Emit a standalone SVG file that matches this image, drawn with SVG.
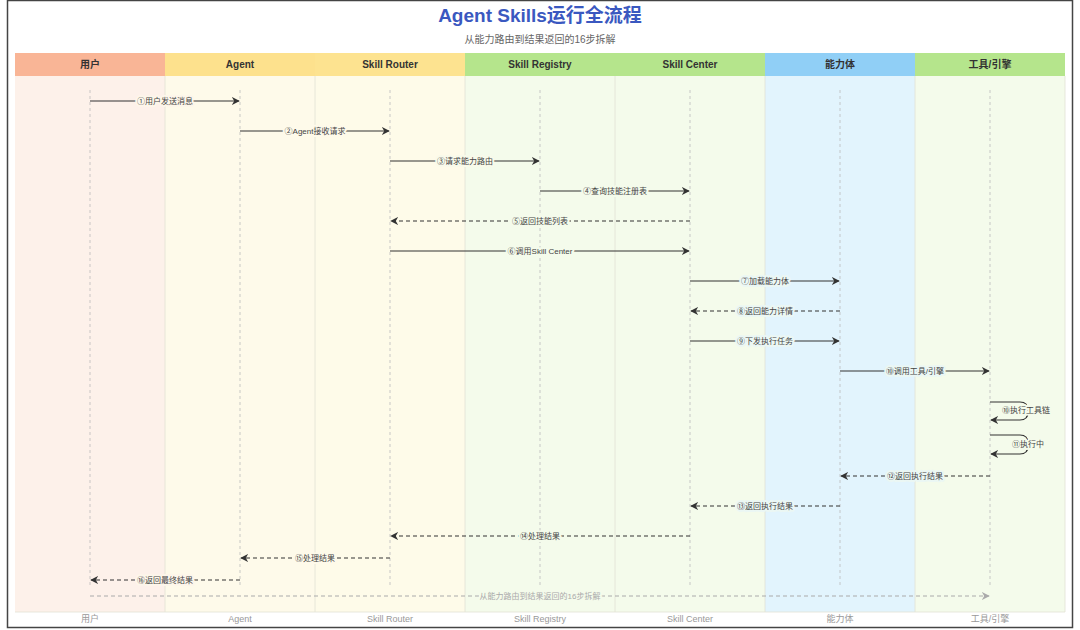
<svg xmlns="http://www.w3.org/2000/svg" width="1080" height="630" viewBox="0 0 1080 630">
<defs>
<style>
.t{font-family:"Liberation Sans","Noto Sans CJK SC",sans-serif}
.title{font-size:19px;font-weight:bold;fill:#3a58c0}
.sub{font-size:10px;fill:#666}
.hd{font-size:10px;font-weight:bold;fill:#333}
.ft{font-size:9px;fill:#999}
.lbl{font-size:8px;fill:#444;paint-order:stroke;stroke-width:4px;stroke-linejoin:round}
.life{stroke:#bbb;stroke-width:0.8;stroke-dasharray:3 3;fill:none}
.sep{stroke:#e2e2d4;stroke-width:0.8}
.msg{stroke:#333;stroke-width:1.2;fill:none;marker-end:url(#ah)}
.ret{stroke:#333;stroke-width:1.2;fill:none;stroke-dasharray:4 3;marker-end:url(#ah)}
</style>
<marker id="ah" viewBox="0 0 10 10" refX="9" refY="5" markerWidth="8" markerHeight="8" markerUnits="userSpaceOnUse" orient="auto">
<path d="M0,0 L10,5 L0,10 L3,5 z" fill="#333"/>
</marker>
<marker id="ahg" viewBox="0 0 10 10" refX="9" refY="5" markerWidth="8" markerHeight="8" markerUnits="userSpaceOnUse" orient="auto">
<path d="M0,0 L10,5 L0,10 L3,5 z" fill="#aaa"/>
</marker>
</defs>
<rect x="0" y="0" width="1080" height="630" fill="#fff"/>
<rect x="7.5" y="0.5" width="1065" height="627" fill="#fff" stroke="#444" stroke-width="1.5"/>
<text class="t title" x="540" y="22" text-anchor="middle">Agent Skills运行全流程</text>
<text class="t sub" x="540" y="43" text-anchor="middle">从能力路由到结果返回的16步拆解</text>

<g id="lane-user">
<rect x="15" y="76" width="150" height="536" fill="#fdf1ea"/>
<rect x="15" y="53" width="150" height="23" fill="#f9b596"/>
<text class="t hd" x="90" y="68" text-anchor="middle">用户</text>
<line class="life" x1="90" y1="90" x2="90" y2="588"/>
<text class="t ft" x="90" y="622" text-anchor="middle">用户</text>
</g>
<g id="lane-agent">
<rect x="165" y="76" width="150" height="536" fill="#fefaea"/>
<rect x="165" y="53" width="150" height="23" fill="#fde18d"/>
<text class="t hd" x="240" y="68" text-anchor="middle">Agent</text>
<line class="life" x1="240" y1="90" x2="240" y2="588"/>
<text class="t ft" x="240" y="622" text-anchor="middle">Agent</text>
</g>
<g id="lane-router">
<rect x="315" y="76" width="150" height="536" fill="#fefbe9"/>
<rect x="315" y="53" width="150" height="23" fill="#fde390"/>
<text class="t hd" x="390" y="68" text-anchor="middle">Skill Router</text>
<line class="life" x1="390" y1="90" x2="390" y2="588"/>
<text class="t ft" x="390" y="622" text-anchor="middle">Skill Router</text>
</g>
<g id="lane-registry">
<rect x="465" y="76" width="150" height="536" fill="#f4fbeb"/>
<rect x="465" y="53" width="150" height="23" fill="#b5e58c"/>
<text class="t hd" x="540" y="68" text-anchor="middle">Skill Registry</text>
<line class="life" x1="540" y1="90" x2="540" y2="588"/>
<text class="t ft" x="540" y="622" text-anchor="middle">Skill Registry</text>
</g>
<g id="lane-center">
<rect x="615" y="76" width="150" height="536" fill="#f4fbeb"/>
<rect x="615" y="53" width="150" height="23" fill="#b5e58c"/>
<text class="t hd" x="690" y="68" text-anchor="middle">Skill Center</text>
<line class="life" x1="690" y1="90" x2="690" y2="588"/>
<text class="t ft" x="690" y="622" text-anchor="middle">Skill Center</text>
</g>
<g id="lane-capability">
<rect x="765" y="76" width="150" height="536" fill="#e2f4fd"/>
<rect x="765" y="53" width="150" height="23" fill="#90cff6"/>
<text class="t hd" x="840" y="68" text-anchor="middle">能力体</text>
<line class="life" x1="840" y1="90" x2="840" y2="588"/>
<text class="t ft" x="840" y="622" text-anchor="middle">能力体</text>
</g>
<g id="lane-tools">
<rect x="915" y="76" width="150" height="536" fill="#f4fbeb"/>
<rect x="915" y="53" width="150" height="23" fill="#b5e58c"/>
<text class="t hd" x="990" y="68" text-anchor="middle">工具/引擎</text>
<line class="life" x1="990" y1="90" x2="990" y2="588"/>
<text class="t ft" x="990" y="622" text-anchor="middle">工具/引擎</text>
</g>
<g id="separators">
<line class="sep" x1="165" y1="76" x2="165" y2="612"/>
<line class="sep" x1="315" y1="76" x2="315" y2="612"/>
<line class="sep" x1="465" y1="76" x2="465" y2="612"/>
<line class="sep" x1="615" y1="76" x2="615" y2="612"/>
<line class="sep" x1="765" y1="76" x2="765" y2="612"/>
<line class="sep" x1="915" y1="76" x2="915" y2="612"/>
<line class="sep" x1="1065" y1="76" x2="1065" y2="612"/>
<line class="sep" x1="15" y1="612" x2="1065" y2="612"/>
</g>

<g id="connectors">
<line class="msg" x1="90" y1="101" x2="239" y2="101"/>
<text class="t lbl" x="165" y="104" text-anchor="middle" stroke="#fdf6ea">①用户发送消息</text>
<line class="msg" x1="240" y1="131" x2="389" y2="131"/>
<text class="t lbl" x="315" y="134" text-anchor="middle" stroke="#fefaea">②Agent接收请求</text>
<line class="msg" x1="390" y1="161" x2="539" y2="161"/>
<text class="t lbl" x="465" y="164" text-anchor="middle" stroke="#f8faea">③请求能力路由</text>
<line class="msg" x1="540" y1="191" x2="689" y2="191"/>
<text class="t lbl" x="615" y="194" text-anchor="middle" stroke="#f4fbeb">④查询技能注册表</text>
<line class="ret" x1="690" y1="221" x2="391" y2="221"/>
<text class="t lbl" x="540" y="224" text-anchor="middle" stroke="#f4fbeb">⑤返回技能列表</text>
<line class="msg" x1="390" y1="251" x2="689" y2="251"/>
<text class="t lbl" x="540" y="254" text-anchor="middle" stroke="#f4fbeb">⑥调用Skill Center</text>
<line class="msg" x1="690" y1="281" x2="839" y2="281"/>
<text class="t lbl" x="765" y="284" text-anchor="middle" stroke="#ebf7f4">⑦加载能力体</text>
<line class="ret" x1="840" y1="311" x2="691" y2="311"/>
<text class="t lbl" x="765" y="314" text-anchor="middle" stroke="#ebf7f4">⑧返回能力详情</text>
<line class="msg" x1="690" y1="341" x2="839" y2="341"/>
<text class="t lbl" x="765" y="344" text-anchor="middle" stroke="#ebf7f4">⑨下发执行任务</text>
<line class="msg" x1="840" y1="371" x2="989" y2="371"/>
<text class="t lbl" x="915" y="374" text-anchor="middle" stroke="#ebf7f4">⑩调用工具/引擎</text>
<path class="msg" d="M990,402 H1020 Q1028,402 1028,410 V412 Q1028,420 1020,420 H991"/>
<text class="t lbl" x="1002" y="413" stroke="#f4fbeb">⑩执行工具链</text>
<path class="msg" d="M990,435 H1020 Q1028,435 1028,443 V446 Q1028,454 1020,454 H991"/>
<text class="t lbl" x="1012" y="447" stroke="#f4fbeb">⑪执行中</text>
<line class="ret" x1="990" y1="476" x2="841" y2="476"/>
<text class="t lbl" x="915" y="479" text-anchor="middle" stroke="#ebf7f4">⑫返回执行结果</text>
<line class="ret" x1="840" y1="506" x2="691" y2="506"/>
<text class="t lbl" x="765" y="509" text-anchor="middle" stroke="#ebf7f4">⑬返回执行结果</text>
<line class="ret" x1="690" y1="536" x2="391" y2="536"/>
<text class="t lbl" x="540" y="539" text-anchor="middle" stroke="#f4fbeb">⑭处理结果</text>
<line class="ret" x1="390" y1="558" x2="241" y2="558"/>
<text class="t lbl" x="315" y="561" text-anchor="middle" stroke="#fefaea">⑮处理结果</text>
<line class="ret" x1="240" y1="580" x2="91" y2="580"/>
<text class="t lbl" x="165" y="583" text-anchor="middle" stroke="#fdf6ea">⑯返回最终结果</text>
<line x1="90" y1="596" x2="989" y2="596" stroke="#aaa" stroke-width="1" stroke-dasharray="4 3" marker-end="url(#ahg)"/>
<text class="t lbl" x="540" y="599" text-anchor="middle" stroke="#f4fbeb" style="fill:#aaa">从能力路由到结果返回的16步拆解</text>
</g>
</svg>
